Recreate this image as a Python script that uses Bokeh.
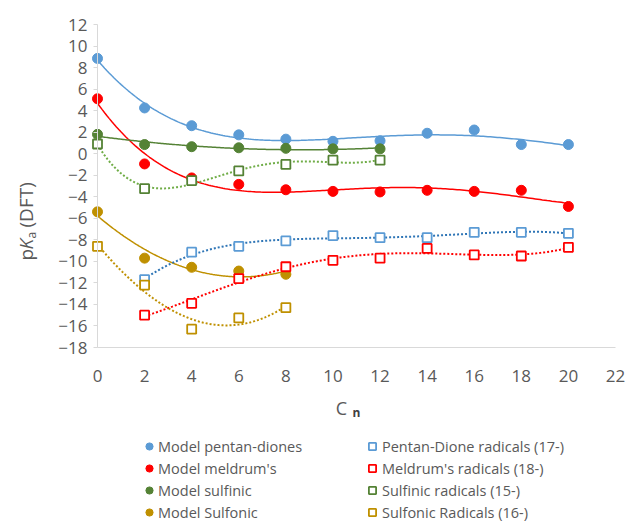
import numpy as np
from bokeh.plotting import figure
from bokeh.models import Range1d, FixedTicker, Legend, LegendItem, Label
from bokeh.embed import file_html
from bokeh.resources import INLINE

# ---------------- data ----------------
x_ticks = [0, 2, 4, 6, 8, 10, 12, 14, 16, 18, 20, 22]
y_ticks = [-18, -16, -14, -12, -10, -8, -6, -4, -2, 0, 2, 4, 6, 8, 10, 12]

pentan_x = [0, 2, 4, 6, 8, 10, 12, 14, 16, 18, 20]
pentan_y = [8.85, 4.25, 2.6, 1.75, 1.35, 1.15, 1.2, 1.9, 2.2, 0.85, 0.85]

meldrum_x = [0, 2, 4, 6, 8, 10, 12, 14, 16, 18, 20]
meldrum_y = [5.1, -0.95, -2.25, -2.85, -3.35, -3.5, -3.55, -3.4, -3.5, -3.4, -4.9]

sulfinic_x = [0, 2, 4, 6, 8, 10, 12]
sulfinic_y = [1.8, 0.85, 0.65, 0.55, 0.5, 0.45, 0.45]

sulfonic_x = [0, 2, 4, 6, 8]
sulfonic_y = [-5.4, -9.7, -10.55, -10.9, -11.2]

pentan_rad_x = [2, 4, 6, 8, 10, 12, 14, 16, 18, 20]
pentan_rad_y = [-11.7, -9.15, -8.6, -8.1, -7.6, -7.8, -7.8, -7.3, -7.3, -7.4]

meldrum_rad_x = [2, 4, 6, 8, 10, 12, 14, 16, 18, 20]
meldrum_rad_y = [-15.0, -13.9, -11.6, -10.5, -9.9, -9.7, -8.8, -9.4, -9.5, -8.7]

sulfinic_rad_x = [0, 2, 4, 6, 8, 10, 12]
sulfinic_rad_y = [0.9, -3.25, -2.5, -1.6, -1.0, -0.6, -0.6]

sulfonic_rad_x = [0, 2, 4, 6, 8]
sulfonic_rad_y = [-8.6, -12.2, -16.3, -15.25, -14.3]

model_labels = ["Model pentan-diones", "Model meldrum's", "Model sulfinic", "Model Sulfonic"]
radical_labels = ["Pentan-Dione radicals (17-)", "Meldrum's radicals (18-)",
                  "Sulfinic radicals (15-)", "Sulfonic Radicals (16-)"]

# ---------------- style / layout ----------------
BLUE = "#5B9BD5"
RED = "#FF0000"
GREEN = "#548235"
GOLD = "#BF9000"
TXT = "#595959"
AXC = "#D9D9D9"
FONT = "Open Sans"

W, H = 627, 521
X0_PX, X1_PX = 97, 615      # pixel columns of x = 0 and x = 22
Y1_PX, Y0_PX = 24, 347      # pixel rows of y = 12 and y = -18 (from top)
xs_px = (X1_PX - X0_PX) / 22.0
ys_px = (Y0_PX - Y1_PX) / 30.0
x_range = Range1d(-X0_PX / xs_px, 22 + (W - X1_PX) / xs_px)
y_range = Range1d(-18 - (H - Y0_PX) / ys_px, 12 + Y1_PX / ys_px)

p = figure(width=W, height=H, output_backend="svg", toolbar_location=None,
           x_range=x_range, y_range=y_range, min_border=0)
p.min_border_left = p.min_border_right = p.min_border_top = p.min_border_bottom = 0
p.outline_line_color = None
p.xgrid.visible = False
p.ygrid.visible = False
p.background_fill_color = "white"
p.border_fill_color = "white"

# axes (drawn at fixed data locations)
p.xaxis.ticker = FixedTicker(ticks=x_ticks)
p.yaxis.ticker = FixedTicker(ticks=y_ticks)
p.xaxis.bounds = (0, 22)
p.yaxis.bounds = (-18, 12)
p.xaxis.fixed_location = -18
p.yaxis.fixed_location = 0
for ax in (p.xaxis, p.yaxis):
    ax.axis_line_color = AXC
    ax.axis_line_width = 1
    ax.major_tick_line_color = AXC
    ax.minor_tick_line_color = None
    ax.major_label_text_color = TXT
    ax.major_label_text_font = FONT
    ax.major_label_text_font_size = "17px"
p.xaxis.major_tick_out = 0
p.xaxis.major_tick_in = 0
p.xaxis.major_label_standoff = 22
p.yaxis.major_tick_out = 4
p.yaxis.major_tick_in = 0
p.yaxis.major_label_standoff = 6


def trend(xs, ys, deg, color, dash, width):
    coef = np.polyfit(xs, ys, deg)
    xx = np.linspace(min(xs), max(xs), 200)
    p.line(xx, np.polyval(coef, xx), line_color=color, line_width=width, line_dash=dash)


# trendlines
trend(pentan_x, pentan_y, 4, BLUE, "solid", 1.5)
trend(meldrum_x, meldrum_y, 4, RED, "solid", 1.5)
trend(sulfinic_x, sulfinic_y, 2, GREEN, "solid", 1.5)
trend(sulfonic_x, sulfonic_y, 2, GOLD, "solid", 1.5)
trend(pentan_rad_x, pentan_rad_y, 4, "#2E75B6", "2 2", 2)
trend(meldrum_rad_x, meldrum_rad_y, 4, RED, "2 2", 2)
trend(sulfinic_rad_x, sulfinic_rad_y, 4, "#70AD47", "2 2", 2)
trend(sulfonic_rad_x, sulfonic_rad_y, 3, GOLD, "2 2", 2)

# markers
r_c = []
for xs, ys, c in [(pentan_x, pentan_y, BLUE), (meldrum_x, meldrum_y, RED),
                  (sulfinic_x, sulfinic_y, GREEN), (sulfonic_x, sulfonic_y, GOLD)]:
    r_c.append(p.scatter(xs, ys, marker="circle", size=10, fill_color=c, line_color=c))
r_s = []
for xs, ys, c in [(pentan_rad_x, pentan_rad_y, BLUE), (meldrum_rad_x, meldrum_rad_y, RED),
                  (sulfinic_rad_x, sulfinic_rad_y, GREEN), (sulfonic_rad_x, sulfonic_rad_y, GOLD)]:
    r_s.append(p.scatter(xs, ys, marker="square", size=9, fill_color="white",
                         line_color=c, line_width=1.8))


def make_legend(labels, renderers, loc, standoff):
    leg = Legend(items=[LegendItem(label=l, renderers=[r]) for l, r in zip(labels, renderers)],
                 location=loc, orientation="vertical")
    leg.padding = 0
    leg.margin = 0
    leg.spacing = 0
    leg.glyph_width = 18
    leg.glyph_height = 22
    leg.label_height = 22
    leg.label_standoff = standoff
    leg.label_text_font = FONT
    leg.label_text_font_size = "14.5px"
    leg.label_text_color = TXT
    leg.border_line_color = None
    leg.background_fill_alpha = 0
    leg.click_policy = "none"
    return leg


p.add_layout(make_legend(model_labels, r_c, (140, -2), 0))
p.add_layout(make_legend(radical_labels, r_s, (363, -2), 1))


def lab(x, y, text, size, angle=0, style="normal", color=TXT, align="left"):
    p.add_layout(Label(x=x, y=y, x_units="screen", y_units="screen", text=text, angle=angle,
                       text_font=FONT, text_font_size=size, text_color=color,
                       text_font_style=style, text_align=align, text_baseline="middle"))


# x axis title  C_n
lab(341, 114, "C", "18px", align="center")
lab(356, 109, "n", "12px", style="bold", color="#404040", align="center")

# y axis title  pK_a (DFT)
ang = np.pi / 2
lab(25, 261, "p", "19px", angle=ang)
lab(25, 272, "K", "19px", angle=ang, style="italic")
lab(31, 283, "a", "12px", angle=ang)
lab(25, 294, "(DFT)", "19px", angle=ang)

open("out.html", "w").write(file_html(p, INLINE))
